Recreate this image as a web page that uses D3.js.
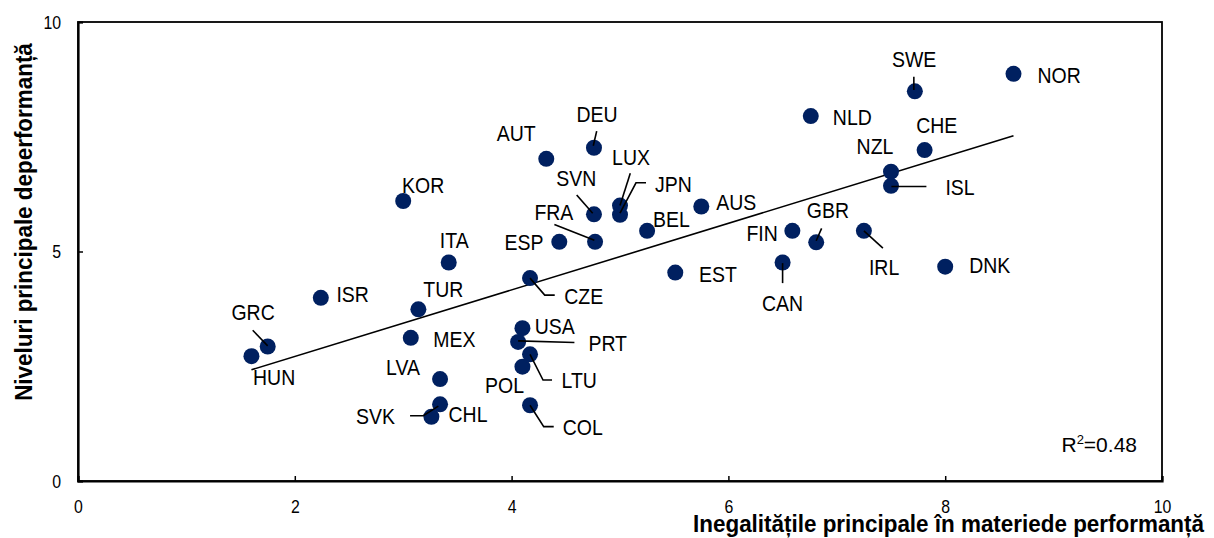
<!DOCTYPE html>
<html>
<head>
<meta charset="utf-8">
<script src="https://cdn.jsdelivr.net/npm/d3@7"></script>
<style>
  body { margin: 0; background: #fff; }
  svg text { font-family: "Liberation Sans", Arial, sans-serif; }
</style>
</head>
<body>
<div id="chart"></div>
<script>
// country codes
var countries = ["KOR","AUT","DEU","SVN","LUX","JPN","AUS","BEL","FRA","ESP","ITA","FIN","GBR","NLD","SWE","NOR","CHE","NZL","ISL","IRL","DNK",
  "ISR","GRC","HUN","TUR","MEX","CZE","EST","CAN","USA","PRT","LTU","POL","LVA","COL","SVK","CHL"];
// x: inegalitati principale, y: niveluri principale
var inequality = [3.00,4.32,4.76,4.76,5.00,5.00,5.75,5.25,4.77,4.44,3.42,6.59,6.81,6.76,7.72,8.63,7.81,7.50,7.50,7.25,8.00,
  2.24,1.75,1.60,3.14,3.07,4.17,5.51,6.50,4.10,4.06,4.17,4.10,3.34,4.17,3.34,3.26];
var level = [6.10,7.02,7.26,5.81,6.00,5.80,5.98,5.45,5.21,5.21,4.76,5.45,5.20,7.95,8.49,8.87,7.21,6.74,6.43,5.45,4.67,
  3.99,2.93,2.72,3.74,3.12,4.42,4.54,4.76,3.33,3.03,2.76,2.49,2.22,1.65,1.67,1.40];
var xTicks = [0,2,4,6,8,10];
var yTicks = [0,5,10];
var r2Label = "0.48";

// label placement (pixels relative to the dot), leader line points
var labelPos = {
  KOR:{dx:20,dy:-8}, AUT:{dx:-30,dy:-18}, DEU:{dx:3,dy:-26,lead:[[2.7,-16.7],[-0.7,-2]]},
  SVN:{dx:-17.7,dy:-28.3,lead:[[-17.3,-19.3],[-1.3,-1]]}, LUX:{dx:11,dy:-40.7,lead:[[10.3,-32.4],[0,0]]},
  JPN:{dx:53.3,dy:-22.7,lead:[[26,-32],[16,-32],[0,-1.7]]}, AUS:{dx:35,dy:3.3}, BEL:{dx:24.3,dy:-4.3},
  FRA:{dx:-41.2,dy:-21.7,lead:[[-40.7,-17.4],[-0.7,-1.7]]}, ESP:{dx:-35.3,dy:8.3}, ITA:{dx:5.5,dy:-15},
  FIN:{dx:-30.3,dy:9.7}, GBR:{dx:11.7,dy:-24,lead:[[5.4,-14],[0,-1.6]]}, NLD:{dx:41.5,dy:8.7},
  SWE:{dx:-0.7,dy:-24.6,lead:[[-1,-14.6],[-1,-1.3]]}, NOR:{dx:45.7,dy:8.7}, CHE:{dx:12.2,dy:-17.3},
  NZL:{dx:-16,dy:-17.7}, ISL:{dx:69,dy:9,lead:[[0.4,0.7],[35.4,0.7]]}, IRL:{dx:20.2,dy:44,lead:[[0,0],[19,17.3]]},
  DNK:{dx:44.6,dy:6}, ISR:{dx:31.8,dy:4}, GRC:{dx:-14.6,dy:-26.3,lead:[[-15,-16.3],[0,-0.6]]},
  HUN:{dx:22.7,dy:28.7}, TUR:{dx:24.9,dy:-12.6}, MEX:{dx:43.5,dy:9},
  CZE:{dx:53.7,dy:26.3,lead:[[0,0],[14.7,17],[24.7,17]]}, EST:{dx:42.7,dy:9},
  CAN:{dx:0,dy:48,lead:[[0,0.6],[0,20.6]]}, USA:{dx:32.3,dy:6},
  PRT:{dx:89.6,dy:9.3,lead:[[0,-1],[56.3,0.6]]}, LTU:{dx:49.2,dy:34,lead:[[0,0],[13,25.7],[22,25.7]]},
  POL:{dx:-17.9,dy:26.6}, LVA:{dx:-37,dy:-4}, COL:{dx:52.7,dy:29.7,lead:[[0,0],[13.7,21.4],[23.7,21.4]]},
  SVK:{dx:-64.5,dy:19.7,lead:[[-30,11.4],[-16.7,11.4],[-1.7,1.7]]}, CHL:{dx:36.6,dy:5}
};

var width = 1214, height = 538;
var margin = {left:78, top:22, right:52, bottom:57};
var narrow = 0.885; // the original text is condensed

var svg = d3.select("#chart").append("svg")
  .attr("width", width).attr("height", height);

var x = d3.scaleLinear().domain([0,10]).range([margin.left, width-margin.right]);
var y = d3.scaleLinear().domain([0,10]).range([height-margin.bottom, margin.top]);

var data = countries.map(function(c,i){ return {code:c, x:inequality[i], y:level[i]}; });

// frame
svg.append("rect")
  .attr("x", x(0)).attr("y", y(10))
  .attr("width", x(10)-x(0)).attr("height", y(0)-y(10))
  .attr("fill", "none").attr("stroke", "#000").attr("stroke-width", 1.8);

// axes, ticks pointing inside
var xAxis = svg.append("g")
  .attr("transform", "translate(0," + y(0) + ")")
  .call(d3.axisBottom(x).tickValues(xTicks).tickSize(-5).tickPadding(32));
var yAxis = svg.append("g")
  .attr("transform", "translate(" + x(0) + ",0)")
  .call(d3.axisLeft(y).tickValues(yTicks).tickSize(-5).tickPadding(17));
[xAxis, yAxis].forEach(function(a){
  a.select(".domain").attr("stroke-width", 2.2);
  a.selectAll(".tick line").attr("stroke-width", 1.5);
  a.selectAll(".tick text").attr("font-size", 18).attr("fill", "#000")
    .style("font-family", "'Liberation Sans',Arial,sans-serif");
});
xAxis.selectAll(".tick text").attr("dy", "0")
  .attr("transform", "scale(0.88,1)");
yAxis.selectAll(".tick text").attr("dy", "0.35em").attr("x", 0)
  .attr("transform", "translate(-17,0) scale(0.88,1)");

// trend line from least squares
var mx = d3.mean(data, function(d){ return d.x; });
var my = d3.mean(data, function(d){ return d.y; });
var sxy = d3.sum(data, function(d){ return (d.x-mx)*(d.y-my); });
var sxx = d3.sum(data, function(d){ return (d.x-mx)*(d.x-mx); });
var slope = sxy/sxx, icpt = my - slope*mx;
var xr = d3.extent(data, function(d){ return d.x; });
svg.append("line")
  .attr("x1", x(xr[0])).attr("y1", y(icpt + slope*xr[0]))
  .attr("x2", x(xr[1])).attr("y2", y(icpt + slope*xr[1]))
  .attr("stroke", "#000").attr("stroke-width", 1.6);

// dots
svg.selectAll(".dot").data(data).enter().append("circle")
  .attr("class", "dot")
  .attr("cx", function(d){ return x(d.x); })
  .attr("cy", function(d){ return y(d.y); })
  .attr("r", 8)
  .attr("fill", "#002060");

// leader lines
svg.selectAll(".lead").data(data.filter(function(d){ return labelPos[d.code].lead; })).enter()
  .append("polyline")
  .attr("class", "lead")
  .attr("points", function(d){
    return labelPos[d.code].lead.map(function(p){ return (x(d.x)+p[0]) + "," + (y(d.y)+p[1]); }).join(" ");
  })
  .attr("fill", "none").attr("stroke", "#000").attr("stroke-width", 1.6);

// labels
svg.selectAll(".lab").data(data).enter().append("text")
  .attr("class", "lab")
  .attr("transform", function(d){
    return "translate(" + (x(d.x) + labelPos[d.code].dx) + "," + (y(d.y) + labelPos[d.code].dy) + ") scale(" + narrow + ",1)";
  })
  .attr("text-anchor", "middle")
  .attr("font-size", 22)
  .text(function(d){ return d.code; });

// R squared
var r2 = svg.append("text")
  .attr("x", x(10) - 25).attr("y", y(0) - 29)
  .attr("text-anchor", "end").attr("font-size", 21);
r2.append("tspan").text("R");
r2.append("tspan").attr("font-size", 13).attr("dy", -8).text("2");
r2.append("tspan").attr("dy", 8).text("=" + r2Label);

// axis titles
svg.append("text")
  .attr("transform", "translate(1204,532) scale(0.935,1)")
  .attr("text-anchor", "end").attr("font-size", 24).attr("font-weight", "bold")
  .text("Inegalitățile principale în materiede performanță");
svg.append("text")
  .attr("transform", "translate(32,222) rotate(-90) scale(0.935,1)")
  .attr("text-anchor", "middle").attr("font-size", 24).attr("font-weight", "bold")
  .text("Niveluri principale deperformanță");
</script>
</body>
</html>
